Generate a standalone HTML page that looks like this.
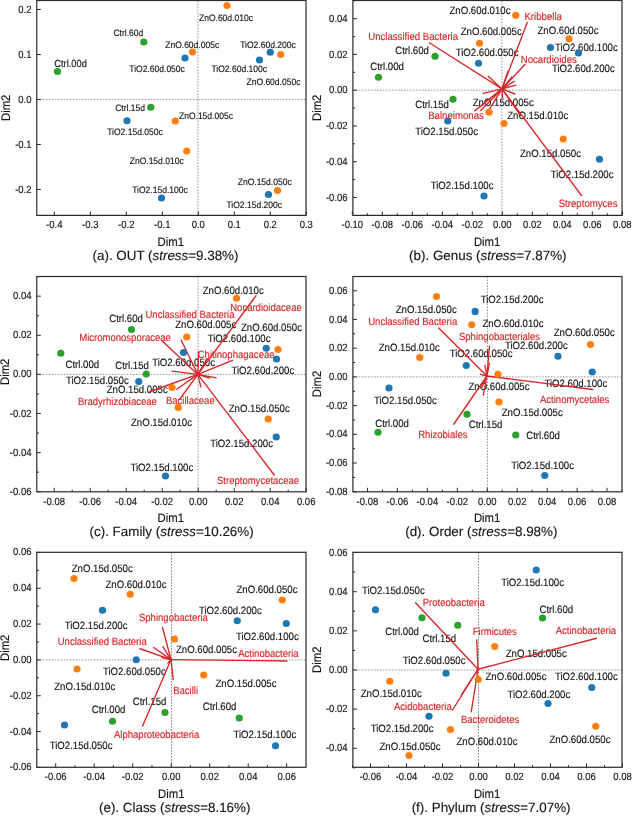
<!DOCTYPE html>
<html><head><meta charset="utf-8"><title>NMDS ordination plots</title>
<style>
html,body{margin:0;padding:0;background:#fff;}
body{width:632px;height:816px;overflow:hidden;}
svg{display:block;font-family:"Liberation Sans",Arial,Helvetica,sans-serif;}
text{text-rendering:geometricPrecision;stroke-width:0.14px;stroke-linejoin:round;}
</style></head><body>
<svg width="632" height="816" viewBox="0 0 632 816">
<rect x="0" y="0" width="632" height="816" fill="#ffffff"/>
<g id="panel-a">
<line x1="36.80" y1="99.40" x2="306.00" y2="99.40" stroke="#989898" stroke-width="1" stroke-dasharray="1.6 1.4"/>
<line x1="197.90" y1="0.50" x2="197.90" y2="215.40" stroke="#989898" stroke-width="1" stroke-dasharray="1.6 1.4"/>
<text transform="translate(54.20,66.84) scale(1,1.1)" font-size="9.34" fill="#161616" stroke="#161616" text-anchor="start" >Ctrl.00d</text>
<text transform="translate(113.45,36.31) scale(1,1.1)" font-size="8.53" fill="#161616" stroke="#161616" text-anchor="start" >Ctrl.60d</text>
<text transform="translate(115.20,111.31) scale(1,1.1)" font-size="8.53" fill="#161616" stroke="#161616" text-anchor="start" >Ctrl.15d</text>
<text transform="translate(107.20,134.81) scale(1,1.1)" font-size="8.53" fill="#161616" stroke="#161616" text-anchor="start" >TiO2.15d.050c</text>
<text transform="translate(198.95,20.81) scale(1,1.1)" font-size="8.53" fill="#161616" stroke="#161616" text-anchor="start" >ZnO.60d.010c</text>
<text transform="translate(165.20,47.56) scale(1,1.1)" font-size="8.53" fill="#161616" stroke="#161616" text-anchor="start" >ZnO.60d.005c</text>
<text transform="translate(129.30,71.56) scale(1,1.1)" font-size="8.53" fill="#161616" stroke="#161616" text-anchor="start" >TiO2.60d.050c</text>
<text transform="translate(240.20,47.56) scale(1,1.1)" font-size="8.53" fill="#161616" stroke="#161616" text-anchor="start" >TiO2.60d.200c</text>
<text transform="translate(211.45,71.56) scale(1,1.1)" font-size="8.53" fill="#161616" stroke="#161616" text-anchor="start" >TiO2.60d.100c</text>
<text transform="translate(246.45,84.56) scale(1,1.1)" font-size="8.53" fill="#161616" stroke="#161616" text-anchor="start" >ZnO.60d.050c</text>
<text transform="translate(178.95,118.81) scale(1,1.1)" font-size="8.53" fill="#161616" stroke="#161616" text-anchor="start" >ZnO.15d.005c</text>
<text transform="translate(129.70,164.31) scale(1,1.1)" font-size="8.53" fill="#161616" stroke="#161616" text-anchor="start" >ZnO.15d.010c</text>
<text transform="translate(132.20,193.06) scale(1,1.1)" font-size="8.53" fill="#161616" stroke="#161616" text-anchor="start" >TiO2.15d.100c</text>
<text transform="translate(237.70,185.06) scale(1,1.1)" font-size="8.53" fill="#161616" stroke="#161616" text-anchor="start" >ZnO.15d.050c</text>
<text transform="translate(226.45,208.06) scale(1,1.1)" font-size="8.53" fill="#161616" stroke="#161616" text-anchor="start" >TiO2.15d.200c</text>
<circle cx="57.50" cy="71.50" r="3.6" fill="#2ca02c"/>
<circle cx="143.75" cy="42.00" r="3.6" fill="#2ca02c"/>
<circle cx="150.75" cy="107.25" r="3.6" fill="#2ca02c"/>
<circle cx="127.00" cy="120.75" r="3.6" fill="#1f77b4"/>
<circle cx="185.00" cy="58.00" r="3.6" fill="#1f77b4"/>
<circle cx="270.25" cy="52.25" r="3.6" fill="#1f77b4"/>
<circle cx="259.50" cy="60.00" r="3.6" fill="#1f77b4"/>
<circle cx="161.50" cy="198.00" r="3.6" fill="#1f77b4"/>
<circle cx="268.50" cy="194.50" r="3.6" fill="#1f77b4"/>
<circle cx="227.00" cy="5.50" r="3.6" fill="#ff7f0e"/>
<circle cx="192.50" cy="52.00" r="3.6" fill="#ff7f0e"/>
<circle cx="280.75" cy="54.50" r="3.6" fill="#ff7f0e"/>
<circle cx="175.25" cy="121.00" r="3.6" fill="#ff7f0e"/>
<circle cx="186.75" cy="151.00" r="3.6" fill="#ff7f0e"/>
<circle cx="277.50" cy="190.50" r="3.6" fill="#ff7f0e"/>
<rect x="36.8" y="0.5" width="269.2" height="214.9" fill="none" stroke="#2b2b2b" stroke-width="1.2"/>
<line x1="54.30" y1="215.40" x2="54.30" y2="211.40" stroke="#2b2b2b" stroke-width="1" />
<text transform="translate(54.30,227.95) scale(1,1.1)" font-size="9.5" fill="#161616" stroke="#161616" text-anchor="middle" >-0.4</text>
<line x1="90.30" y1="215.40" x2="90.30" y2="211.40" stroke="#2b2b2b" stroke-width="1" />
<text transform="translate(90.30,227.95) scale(1,1.1)" font-size="9.5" fill="#161616" stroke="#161616" text-anchor="middle" >-0.3</text>
<line x1="126.30" y1="215.40" x2="126.30" y2="211.40" stroke="#2b2b2b" stroke-width="1" />
<text transform="translate(126.30,227.95) scale(1,1.1)" font-size="9.5" fill="#161616" stroke="#161616" text-anchor="middle" >-0.2</text>
<line x1="162.30" y1="215.40" x2="162.30" y2="211.40" stroke="#2b2b2b" stroke-width="1" />
<text transform="translate(162.30,227.95) scale(1,1.1)" font-size="9.5" fill="#161616" stroke="#161616" text-anchor="middle" >-0.1</text>
<line x1="198.30" y1="215.40" x2="198.30" y2="211.40" stroke="#2b2b2b" stroke-width="1" />
<text transform="translate(198.30,227.95) scale(1,1.1)" font-size="9.5" fill="#161616" stroke="#161616" text-anchor="middle" >0.0</text>
<line x1="234.30" y1="215.40" x2="234.30" y2="211.40" stroke="#2b2b2b" stroke-width="1" />
<text transform="translate(234.30,227.95) scale(1,1.1)" font-size="9.5" fill="#161616" stroke="#161616" text-anchor="middle" >0.1</text>
<line x1="270.30" y1="215.40" x2="270.30" y2="211.40" stroke="#2b2b2b" stroke-width="1" />
<text transform="translate(270.30,227.95) scale(1,1.1)" font-size="9.5" fill="#161616" stroke="#161616" text-anchor="middle" >0.2</text>
<line x1="306.30" y1="215.40" x2="306.30" y2="211.40" stroke="#2b2b2b" stroke-width="1" />
<text transform="translate(306.30,227.95) scale(1,1.1)" font-size="9.5" fill="#161616" stroke="#161616" text-anchor="middle" >0.3</text>
<line x1="36.80" y1="189.50" x2="40.80" y2="189.50" stroke="#2b2b2b" stroke-width="1" />
<text transform="translate(31.50,192.55) scale(1,1.1)" font-size="9.5" fill="#161616" stroke="#161616" text-anchor="end" >-0.2</text>
<line x1="36.80" y1="144.50" x2="40.80" y2="144.50" stroke="#2b2b2b" stroke-width="1" />
<text transform="translate(31.50,147.55) scale(1,1.1)" font-size="9.5" fill="#161616" stroke="#161616" text-anchor="end" >-0.1</text>
<line x1="36.80" y1="99.50" x2="40.80" y2="99.50" stroke="#2b2b2b" stroke-width="1" />
<text transform="translate(31.50,102.55) scale(1,1.1)" font-size="9.5" fill="#161616" stroke="#161616" text-anchor="end" >0.0</text>
<line x1="36.80" y1="54.50" x2="40.80" y2="54.50" stroke="#2b2b2b" stroke-width="1" />
<text transform="translate(31.50,57.55) scale(1,1.1)" font-size="9.5" fill="#161616" stroke="#161616" text-anchor="end" >0.1</text>
<line x1="36.80" y1="9.50" x2="40.80" y2="9.50" stroke="#2b2b2b" stroke-width="1" />
<text transform="translate(31.50,12.55) scale(1,1.1)" font-size="9.5" fill="#161616" stroke="#161616" text-anchor="end" >0.2</text>
<text transform="translate(170.80,246.22) scale(1,1.1)" font-size="11.3" fill="#161616" stroke="#161616" text-anchor="middle" >Dim1</text>
<text transform="translate(10.10,107.80) rotate(-90) scale(1,1.1)" font-size="11.3" fill="#161616" stroke="#161616" text-anchor="middle">Dim2</text>
<text transform="translate(165.50,259.50)" font-size="13.4" fill="#161616" stroke="#161616" text-anchor="middle">(a). OUT (<tspan font-style="italic">stress</tspan>=9.38%)</text>
</g>
<g id="panel-b">
<line x1="352.90" y1="90.20" x2="622.00" y2="90.20" stroke="#989898" stroke-width="1" stroke-dasharray="1.6 1.4"/>
<line x1="501.90" y1="0.50" x2="501.90" y2="215.40" stroke="#989898" stroke-width="1" stroke-dasharray="1.6 1.4"/>
<text transform="translate(370.20,70.36) scale(1,1.1)" font-size="9.64" fill="#161616" stroke="#161616" text-anchor="start" >Ctrl.00d</text>
<text transform="translate(395.20,54.11) scale(1,1.1)" font-size="9.64" fill="#161616" stroke="#161616" text-anchor="start" >Ctrl.60d</text>
<text transform="translate(415.20,108.36) scale(1,1.1)" font-size="9.64" fill="#161616" stroke="#161616" text-anchor="start" >Ctrl.15d</text>
<text transform="translate(415.20,135.11) scale(1,1.1)" font-size="9.64" fill="#161616" stroke="#161616" text-anchor="start" >TiO2.15d.050c</text>
<text transform="translate(449.45,13.86) scale(1,1.1)" font-size="9.64" fill="#161616" stroke="#161616" text-anchor="start" >ZnO.60d.010c</text>
<text transform="translate(460.70,34.61) scale(1,1.1)" font-size="9.64" fill="#161616" stroke="#161616" text-anchor="start" >ZnO.60d.005c</text>
<text transform="translate(537.45,33.86) scale(1,1.1)" font-size="9.64" fill="#161616" stroke="#161616" text-anchor="start" >ZnO.60d.050c</text>
<text transform="translate(554.95,50.86) scale(1,1.1)" font-size="9.64" fill="#161616" stroke="#161616" text-anchor="start" >TiO2.60d.100c</text>
<text transform="translate(551.95,71.61) scale(1,1.1)" font-size="9.64" fill="#161616" stroke="#161616" text-anchor="start" >TiO2.60d.200c</text>
<text transform="translate(455.70,56.36) scale(1,1.1)" font-size="9.64" fill="#161616" stroke="#161616" text-anchor="start" >TiO2.60d.050c</text>
<text transform="translate(472.70,105.86) scale(1,1.1)" font-size="9.64" fill="#161616" stroke="#161616" text-anchor="start" >ZnO.15d.005c</text>
<text transform="translate(507.20,118.86) scale(1,1.1)" font-size="9.64" fill="#161616" stroke="#161616" text-anchor="start" >ZnO.15d.010c</text>
<text transform="translate(519.95,156.86) scale(1,1.1)" font-size="9.64" fill="#161616" stroke="#161616" text-anchor="start" >ZnO.15d.050c</text>
<text transform="translate(550.70,177.61) scale(1,1.1)" font-size="9.64" fill="#161616" stroke="#161616" text-anchor="start" >TiO2.15d.200c</text>
<text transform="translate(430.70,188.86) scale(1,1.1)" font-size="9.64" fill="#161616" stroke="#161616" text-anchor="start" >TiO2.15d.100c</text>
<line x1="502.00" y1="88.90" x2="429.30" y2="42.80" stroke="#d62728" stroke-width="1.35" stroke-linecap="round"/>
<line x1="502.00" y1="88.90" x2="488.20" y2="76.30" stroke="#d62728" stroke-width="1.35" stroke-linecap="round"/>
<line x1="502.00" y1="88.90" x2="527.25" y2="22.50" stroke="#d62728" stroke-width="1.35" stroke-linecap="round"/>
<line x1="502.00" y1="88.90" x2="525.00" y2="64.50" stroke="#d62728" stroke-width="1.35" stroke-linecap="round"/>
<line x1="502.00" y1="88.90" x2="514.20" y2="81.40" stroke="#d62728" stroke-width="1.35" stroke-linecap="round"/>
<line x1="502.00" y1="88.90" x2="515.80" y2="85.20" stroke="#d62728" stroke-width="1.35" stroke-linecap="round"/>
<line x1="502.00" y1="88.90" x2="514.80" y2="94.00" stroke="#d62728" stroke-width="1.35" stroke-linecap="round"/>
<line x1="502.00" y1="88.90" x2="483.20" y2="93.40" stroke="#d62728" stroke-width="1.35" stroke-linecap="round"/>
<line x1="502.00" y1="88.90" x2="474.70" y2="110.90" stroke="#d62728" stroke-width="1.35" stroke-linecap="round"/>
<line x1="502.00" y1="88.90" x2="480.70" y2="110.40" stroke="#d62728" stroke-width="1.35" stroke-linecap="round"/>
<line x1="502.00" y1="88.90" x2="489.30" y2="109.40" stroke="#d62728" stroke-width="1.35" stroke-linecap="round"/>
<line x1="502.00" y1="88.90" x2="502.50" y2="98.00" stroke="#d62728" stroke-width="1.35" stroke-linecap="round"/>
<line x1="502.00" y1="88.90" x2="581.50" y2="195.50" stroke="#d62728" stroke-width="1.35" stroke-linecap="round"/>
<line x1="502.00" y1="88.90" x2="520.50" y2="115.50" stroke="#d62728" stroke-width="1.35" stroke-linecap="round"/>
<line x1="502.00" y1="88.90" x2="508.00" y2="71.00" stroke="#d62728" stroke-width="1.35" stroke-linecap="round"/>
<line x1="502.00" y1="88.90" x2="512.00" y2="77.00" stroke="#d62728" stroke-width="1.35" stroke-linecap="round"/>
<circle cx="378.50" cy="77.25" r="3.6" fill="#2ca02c"/>
<circle cx="435.00" cy="56.25" r="3.6" fill="#2ca02c"/>
<circle cx="453.00" cy="99.25" r="3.6" fill="#2ca02c"/>
<circle cx="447.75" cy="121.00" r="3.6" fill="#1f77b4"/>
<circle cx="550.50" cy="47.50" r="3.6" fill="#1f77b4"/>
<circle cx="578.50" cy="53.00" r="3.6" fill="#1f77b4"/>
<circle cx="478.50" cy="63.25" r="3.6" fill="#1f77b4"/>
<circle cx="599.50" cy="159.25" r="3.6" fill="#1f77b4"/>
<circle cx="484.00" cy="196.00" r="3.6" fill="#1f77b4"/>
<circle cx="515.75" cy="15.25" r="3.6" fill="#ff7f0e"/>
<circle cx="479.50" cy="43.25" r="3.6" fill="#ff7f0e"/>
<circle cx="569.00" cy="38.75" r="3.6" fill="#ff7f0e"/>
<circle cx="489.00" cy="112.25" r="3.6" fill="#ff7f0e"/>
<circle cx="504.00" cy="123.50" r="3.6" fill="#ff7f0e"/>
<circle cx="563.25" cy="139.00" r="3.6" fill="#ff7f0e"/>
<text transform="translate(368.20,40.36) scale(1,1.1)" font-size="9.64" fill="#d62728" stroke="#d62728" text-anchor="start" >Unclassified Bacteria</text>
<text transform="translate(428.20,119.06) scale(1,1.1)" font-size="9.64" fill="#d62728" stroke="#d62728" text-anchor="start" >Balneimonas</text>
<text transform="translate(524.45,19.61) scale(1,1.1)" font-size="9.64" fill="#d62728" stroke="#d62728" text-anchor="start" >Kribbella</text>
<text transform="translate(520.70,63.36) scale(1,1.1)" font-size="9.64" fill="#d62728" stroke="#d62728" text-anchor="start" >Nocardioides</text>
<text transform="translate(558.70,206.86) scale(1,1.1)" font-size="9.64" fill="#d62728" stroke="#d62728" text-anchor="start" >Streptomyces</text>
<rect x="352.9" y="0.5" width="269.1" height="214.9" fill="none" stroke="#2b2b2b" stroke-width="1.2"/>
<line x1="352.30" y1="215.40" x2="352.30" y2="211.40" stroke="#2b2b2b" stroke-width="1" />
<text transform="translate(352.30,227.95) scale(1,1.1)" font-size="9.5" fill="#161616" stroke="#161616" text-anchor="middle" >-0.10</text>
<line x1="382.30" y1="215.40" x2="382.30" y2="211.40" stroke="#2b2b2b" stroke-width="1" />
<text transform="translate(382.30,227.95) scale(1,1.1)" font-size="9.5" fill="#161616" stroke="#161616" text-anchor="middle" >-0.08</text>
<line x1="412.30" y1="215.40" x2="412.30" y2="211.40" stroke="#2b2b2b" stroke-width="1" />
<text transform="translate(412.30,227.95) scale(1,1.1)" font-size="9.5" fill="#161616" stroke="#161616" text-anchor="middle" >-0.06</text>
<line x1="442.30" y1="215.40" x2="442.30" y2="211.40" stroke="#2b2b2b" stroke-width="1" />
<text transform="translate(442.30,227.95) scale(1,1.1)" font-size="9.5" fill="#161616" stroke="#161616" text-anchor="middle" >-0.04</text>
<line x1="472.30" y1="215.40" x2="472.30" y2="211.40" stroke="#2b2b2b" stroke-width="1" />
<text transform="translate(472.30,227.95) scale(1,1.1)" font-size="9.5" fill="#161616" stroke="#161616" text-anchor="middle" >-0.02</text>
<line x1="502.30" y1="215.40" x2="502.30" y2="211.40" stroke="#2b2b2b" stroke-width="1" />
<text transform="translate(502.30,227.95) scale(1,1.1)" font-size="9.5" fill="#161616" stroke="#161616" text-anchor="middle" >0.00</text>
<line x1="532.30" y1="215.40" x2="532.30" y2="211.40" stroke="#2b2b2b" stroke-width="1" />
<text transform="translate(532.30,227.95) scale(1,1.1)" font-size="9.5" fill="#161616" stroke="#161616" text-anchor="middle" >0.02</text>
<line x1="562.30" y1="215.40" x2="562.30" y2="211.40" stroke="#2b2b2b" stroke-width="1" />
<text transform="translate(562.30,227.95) scale(1,1.1)" font-size="9.5" fill="#161616" stroke="#161616" text-anchor="middle" >0.04</text>
<line x1="592.30" y1="215.40" x2="592.30" y2="211.40" stroke="#2b2b2b" stroke-width="1" />
<text transform="translate(592.30,227.95) scale(1,1.1)" font-size="9.5" fill="#161616" stroke="#161616" text-anchor="middle" >0.06</text>
<line x1="622.30" y1="215.40" x2="622.30" y2="211.40" stroke="#2b2b2b" stroke-width="1" />
<text transform="translate(622.30,227.95) scale(1,1.1)" font-size="9.5" fill="#161616" stroke="#161616" text-anchor="middle" >0.08</text>
<line x1="367.30" y1="215.40" x2="367.30" y2="213.20" stroke="#2b2b2b" stroke-width="1" />
<line x1="397.30" y1="215.40" x2="397.30" y2="213.20" stroke="#2b2b2b" stroke-width="1" />
<line x1="427.30" y1="215.40" x2="427.30" y2="213.20" stroke="#2b2b2b" stroke-width="1" />
<line x1="457.30" y1="215.40" x2="457.30" y2="213.20" stroke="#2b2b2b" stroke-width="1" />
<line x1="487.30" y1="215.40" x2="487.30" y2="213.20" stroke="#2b2b2b" stroke-width="1" />
<line x1="517.30" y1="215.40" x2="517.30" y2="213.20" stroke="#2b2b2b" stroke-width="1" />
<line x1="547.30" y1="215.40" x2="547.30" y2="213.20" stroke="#2b2b2b" stroke-width="1" />
<line x1="577.30" y1="215.40" x2="577.30" y2="213.20" stroke="#2b2b2b" stroke-width="1" />
<line x1="607.30" y1="215.40" x2="607.30" y2="213.20" stroke="#2b2b2b" stroke-width="1" />
<line x1="352.90" y1="197.45" x2="356.90" y2="197.45" stroke="#2b2b2b" stroke-width="1" />
<text transform="translate(347.60,200.50) scale(1,1.1)" font-size="9.5" fill="#161616" stroke="#161616" text-anchor="end" >-0.06</text>
<line x1="352.90" y1="161.70" x2="356.90" y2="161.70" stroke="#2b2b2b" stroke-width="1" />
<text transform="translate(347.60,164.75) scale(1,1.1)" font-size="9.5" fill="#161616" stroke="#161616" text-anchor="end" >-0.04</text>
<line x1="352.90" y1="125.95" x2="356.90" y2="125.95" stroke="#2b2b2b" stroke-width="1" />
<text transform="translate(347.60,129.00) scale(1,1.1)" font-size="9.5" fill="#161616" stroke="#161616" text-anchor="end" >-0.02</text>
<line x1="352.90" y1="90.20" x2="356.90" y2="90.20" stroke="#2b2b2b" stroke-width="1" />
<text transform="translate(347.60,93.25) scale(1,1.1)" font-size="9.5" fill="#161616" stroke="#161616" text-anchor="end" >0.00</text>
<line x1="352.90" y1="54.45" x2="356.90" y2="54.45" stroke="#2b2b2b" stroke-width="1" />
<text transform="translate(347.60,57.50) scale(1,1.1)" font-size="9.5" fill="#161616" stroke="#161616" text-anchor="end" >0.02</text>
<line x1="352.90" y1="18.70" x2="356.90" y2="18.70" stroke="#2b2b2b" stroke-width="1" />
<text transform="translate(347.60,21.75) scale(1,1.1)" font-size="9.5" fill="#161616" stroke="#161616" text-anchor="end" >0.04</text>
<line x1="352.90" y1="179.55" x2="355.10" y2="179.55" stroke="#2b2b2b" stroke-width="1" />
<line x1="352.90" y1="143.80" x2="355.10" y2="143.80" stroke="#2b2b2b" stroke-width="1" />
<line x1="352.90" y1="108.05" x2="355.10" y2="108.05" stroke="#2b2b2b" stroke-width="1" />
<line x1="352.90" y1="72.30" x2="355.10" y2="72.30" stroke="#2b2b2b" stroke-width="1" />
<line x1="352.90" y1="36.55" x2="355.10" y2="36.55" stroke="#2b2b2b" stroke-width="1" />
<line x1="352.90" y1="0.80" x2="355.10" y2="0.80" stroke="#2b2b2b" stroke-width="1" />
<text transform="translate(487.10,246.22) scale(1,1.1)" font-size="11.3" fill="#161616" stroke="#161616" text-anchor="middle" >Dim1</text>
<text transform="translate(321.10,107.80) rotate(-90) scale(1,1.1)" font-size="11.3" fill="#161616" stroke="#161616" text-anchor="middle">Dim2</text>
<text transform="translate(487.80,259.50)" font-size="13.4" fill="#161616" stroke="#161616" text-anchor="middle">(b). Genus (<tspan font-style="italic">stress</tspan>=7.87%)</text>
</g>
<g id="panel-c">
<line x1="36.80" y1="374.40" x2="306.00" y2="374.40" stroke="#989898" stroke-width="1" stroke-dasharray="1.6 1.4"/>
<line x1="198.00" y1="276.50" x2="198.00" y2="491.80" stroke="#989898" stroke-width="1" stroke-dasharray="1.6 1.4"/>
<text transform="translate(109.20,322.11) scale(1,1.1)" font-size="9.64" fill="#161616" stroke="#161616" text-anchor="start" >Ctrl.60d</text>
<text transform="translate(65.45,367.86) scale(1,1.1)" font-size="9.64" fill="#161616" stroke="#161616" text-anchor="start" >Ctrl.00d</text>
<text transform="translate(115.20,368.61) scale(1,1.1)" font-size="9.64" fill="#161616" stroke="#161616" text-anchor="start" >Ctrl.15d</text>
<text transform="translate(65.95,383.61) scale(1,1.1)" font-size="9.64" fill="#161616" stroke="#161616" text-anchor="start" >TiO2.15d.050c</text>
<text transform="translate(106.70,393.16) scale(1,1.1)" font-size="9.64" fill="#161616" stroke="#161616" text-anchor="start" >ZnO.15d.005c</text>
<text transform="translate(202.70,293.61) scale(1,1.1)" font-size="9.64" fill="#161616" stroke="#161616" text-anchor="start" >ZnO.60d.010c</text>
<text transform="translate(175.20,328.36) scale(1,1.1)" font-size="9.64" fill="#161616" stroke="#161616" text-anchor="start" >ZnO.60d.005c</text>
<text transform="translate(240.95,330.86) scale(1,1.1)" font-size="9.64" fill="#161616" stroke="#161616" text-anchor="start" >ZnO.60d.050c</text>
<text transform="translate(207.70,342.36) scale(1,1.1)" font-size="9.64" fill="#161616" stroke="#161616" text-anchor="start" >TiO2.60d.100c</text>
<text transform="translate(231.45,373.61) scale(1,1.1)" font-size="9.64" fill="#161616" stroke="#161616" text-anchor="start" >TiO2.60d.200c</text>
<text transform="translate(152.20,366.36) scale(1,1.1)" font-size="9.64" fill="#161616" stroke="#161616" text-anchor="start" >TiO2.60d.050c</text>
<text transform="translate(130.95,425.86) scale(1,1.1)" font-size="9.64" fill="#161616" stroke="#161616" text-anchor="start" >ZnO.15d.010c</text>
<text transform="translate(228.70,412.16) scale(1,1.1)" font-size="9.64" fill="#161616" stroke="#161616" text-anchor="start" >ZnO.15d.050c</text>
<text transform="translate(210.20,446.86) scale(1,1.1)" font-size="9.64" fill="#161616" stroke="#161616" text-anchor="start" >TiO2.15d.200c</text>
<text transform="translate(130.45,471.36) scale(1,1.1)" font-size="9.64" fill="#161616" stroke="#161616" text-anchor="start" >TiO2.15d.100c</text>
<line x1="197.80" y1="374.40" x2="162.00" y2="340.80" stroke="#d62728" stroke-width="1.35" stroke-linecap="round"/>
<line x1="197.80" y1="374.40" x2="181.10" y2="340.00" stroke="#d62728" stroke-width="1.35" stroke-linecap="round"/>
<line x1="197.80" y1="374.40" x2="256.00" y2="295.75" stroke="#d62728" stroke-width="1.35" stroke-linecap="round"/>
<line x1="197.80" y1="374.40" x2="232.60" y2="360.30" stroke="#d62728" stroke-width="1.35" stroke-linecap="round"/>
<line x1="197.80" y1="374.40" x2="150.00" y2="391.50" stroke="#d62728" stroke-width="1.35" stroke-linecap="round"/>
<line x1="197.80" y1="374.40" x2="274.25" y2="475.00" stroke="#d62728" stroke-width="1.35" stroke-linecap="round"/>
<line x1="197.80" y1="374.40" x2="172.00" y2="371.20" stroke="#d62728" stroke-width="1.35" stroke-linecap="round"/>
<line x1="197.80" y1="374.40" x2="216.10" y2="377.80" stroke="#d62728" stroke-width="1.35" stroke-linecap="round"/>
<line x1="197.80" y1="374.40" x2="176.80" y2="389.30" stroke="#d62728" stroke-width="1.35" stroke-linecap="round"/>
<line x1="197.80" y1="374.40" x2="200.80" y2="386.80" stroke="#d62728" stroke-width="1.35" stroke-linecap="round"/>
<line x1="197.80" y1="374.40" x2="179.50" y2="399.50" stroke="#d62728" stroke-width="1.35" stroke-linecap="round"/>
<line x1="197.80" y1="374.40" x2="209.50" y2="378.00" stroke="#d62728" stroke-width="1.35" stroke-linecap="round"/>
<line x1="197.80" y1="374.40" x2="207.00" y2="359.00" stroke="#d62728" stroke-width="1.35" stroke-linecap="round"/>
<line x1="197.80" y1="374.40" x2="198.50" y2="352.00" stroke="#d62728" stroke-width="1.35" stroke-linecap="round"/>
<circle cx="131.50" cy="329.50" r="3.6" fill="#2ca02c"/>
<circle cx="60.75" cy="353.25" r="3.6" fill="#2ca02c"/>
<circle cx="146.25" cy="374.00" r="3.6" fill="#2ca02c"/>
<circle cx="138.75" cy="381.50" r="3.6" fill="#1f77b4"/>
<circle cx="266.25" cy="348.25" r="3.6" fill="#1f77b4"/>
<circle cx="276.50" cy="359.00" r="3.6" fill="#1f77b4"/>
<circle cx="183.50" cy="352.50" r="3.6" fill="#1f77b4"/>
<circle cx="276.25" cy="437.00" r="3.6" fill="#1f77b4"/>
<circle cx="165.50" cy="476.00" r="3.6" fill="#1f77b4"/>
<circle cx="172.00" cy="387.50" r="3.6" fill="#ff7f0e"/>
<circle cx="236.50" cy="298.25" r="3.6" fill="#ff7f0e"/>
<circle cx="186.75" cy="337.00" r="3.6" fill="#ff7f0e"/>
<circle cx="278.00" cy="349.50" r="3.6" fill="#ff7f0e"/>
<circle cx="178.25" cy="407.50" r="3.6" fill="#ff7f0e"/>
<circle cx="268.25" cy="419.00" r="3.6" fill="#ff7f0e"/>
<text transform="translate(79.20,341.05) scale(1,1.1)" font-size="9.54" fill="#d62728" stroke="#d62728" text-anchor="start" >Micromonosporaceae</text>
<text transform="translate(77.95,405.35) scale(1,1.1)" font-size="9.54" fill="#d62728" stroke="#d62728" text-anchor="start" >Bradyrhizobiaceae</text>
<text transform="translate(145.45,318.45) scale(1,1.1)" font-size="9.54" fill="#d62728" stroke="#d62728" text-anchor="start" >Unclassified Bacteria</text>
<text transform="translate(230.20,310.85) scale(1,1.1)" font-size="9.54" fill="#d62728" stroke="#d62728" text-anchor="start" >Nocardioidaceae</text>
<text transform="translate(197.70,357.85) scale(1,1.1)" font-size="9.54" fill="#d62728" stroke="#d62728" text-anchor="start" >Chitinophagaceae</text>
<text transform="translate(165.95,404.10) scale(1,1.1)" font-size="9.54" fill="#d62728" stroke="#d62728" text-anchor="start" >Bacillaceae</text>
<text transform="translate(216.95,484.35) scale(1,1.1)" font-size="9.54" fill="#d62728" stroke="#d62728" text-anchor="start" >Streptomycetaceae</text>
<rect x="36.8" y="276.5" width="269.2" height="215.3" fill="none" stroke="#2b2b2b" stroke-width="1.2"/>
<line x1="54.20" y1="491.80" x2="54.20" y2="487.80" stroke="#2b2b2b" stroke-width="1" />
<text transform="translate(54.20,504.75) scale(1,1.1)" font-size="9.5" fill="#161616" stroke="#161616" text-anchor="middle" >-0.08</text>
<line x1="90.20" y1="491.80" x2="90.20" y2="487.80" stroke="#2b2b2b" stroke-width="1" />
<text transform="translate(90.20,504.75) scale(1,1.1)" font-size="9.5" fill="#161616" stroke="#161616" text-anchor="middle" >-0.06</text>
<line x1="126.20" y1="491.80" x2="126.20" y2="487.80" stroke="#2b2b2b" stroke-width="1" />
<text transform="translate(126.20,504.75) scale(1,1.1)" font-size="9.5" fill="#161616" stroke="#161616" text-anchor="middle" >-0.04</text>
<line x1="162.20" y1="491.80" x2="162.20" y2="487.80" stroke="#2b2b2b" stroke-width="1" />
<text transform="translate(162.20,504.75) scale(1,1.1)" font-size="9.5" fill="#161616" stroke="#161616" text-anchor="middle" >-0.02</text>
<line x1="198.20" y1="491.80" x2="198.20" y2="487.80" stroke="#2b2b2b" stroke-width="1" />
<text transform="translate(198.20,504.75) scale(1,1.1)" font-size="9.5" fill="#161616" stroke="#161616" text-anchor="middle" >0.00</text>
<line x1="234.20" y1="491.80" x2="234.20" y2="487.80" stroke="#2b2b2b" stroke-width="1" />
<text transform="translate(234.20,504.75) scale(1,1.1)" font-size="9.5" fill="#161616" stroke="#161616" text-anchor="middle" >0.02</text>
<line x1="270.20" y1="491.80" x2="270.20" y2="487.80" stroke="#2b2b2b" stroke-width="1" />
<text transform="translate(270.20,504.75) scale(1,1.1)" font-size="9.5" fill="#161616" stroke="#161616" text-anchor="middle" >0.04</text>
<line x1="306.20" y1="491.80" x2="306.20" y2="487.80" stroke="#2b2b2b" stroke-width="1" />
<text transform="translate(306.20,504.75) scale(1,1.1)" font-size="9.5" fill="#161616" stroke="#161616" text-anchor="middle" >0.06</text>
<line x1="72.20" y1="491.80" x2="72.20" y2="489.60" stroke="#2b2b2b" stroke-width="1" />
<line x1="108.20" y1="491.80" x2="108.20" y2="489.60" stroke="#2b2b2b" stroke-width="1" />
<line x1="144.20" y1="491.80" x2="144.20" y2="489.60" stroke="#2b2b2b" stroke-width="1" />
<line x1="180.20" y1="491.80" x2="180.20" y2="489.60" stroke="#2b2b2b" stroke-width="1" />
<line x1="216.20" y1="491.80" x2="216.20" y2="489.60" stroke="#2b2b2b" stroke-width="1" />
<line x1="252.20" y1="491.80" x2="252.20" y2="489.60" stroke="#2b2b2b" stroke-width="1" />
<line x1="288.20" y1="491.80" x2="288.20" y2="489.60" stroke="#2b2b2b" stroke-width="1" />
<line x1="36.80" y1="491.70" x2="40.80" y2="491.70" stroke="#2b2b2b" stroke-width="1" />
<text transform="translate(31.50,494.75) scale(1,1.1)" font-size="9.5" fill="#161616" stroke="#161616" text-anchor="end" >-0.06</text>
<line x1="36.80" y1="452.60" x2="40.80" y2="452.60" stroke="#2b2b2b" stroke-width="1" />
<text transform="translate(31.50,455.65) scale(1,1.1)" font-size="9.5" fill="#161616" stroke="#161616" text-anchor="end" >-0.04</text>
<line x1="36.80" y1="413.50" x2="40.80" y2="413.50" stroke="#2b2b2b" stroke-width="1" />
<text transform="translate(31.50,416.55) scale(1,1.1)" font-size="9.5" fill="#161616" stroke="#161616" text-anchor="end" >-0.02</text>
<line x1="36.80" y1="374.40" x2="40.80" y2="374.40" stroke="#2b2b2b" stroke-width="1" />
<text transform="translate(31.50,377.45) scale(1,1.1)" font-size="9.5" fill="#161616" stroke="#161616" text-anchor="end" >0.00</text>
<line x1="36.80" y1="335.30" x2="40.80" y2="335.30" stroke="#2b2b2b" stroke-width="1" />
<text transform="translate(31.50,338.35) scale(1,1.1)" font-size="9.5" fill="#161616" stroke="#161616" text-anchor="end" >0.02</text>
<line x1="36.80" y1="296.20" x2="40.80" y2="296.20" stroke="#2b2b2b" stroke-width="1" />
<text transform="translate(31.50,299.25) scale(1,1.1)" font-size="9.5" fill="#161616" stroke="#161616" text-anchor="end" >0.04</text>
<line x1="36.80" y1="472.15" x2="39.00" y2="472.15" stroke="#2b2b2b" stroke-width="1" />
<line x1="36.80" y1="433.05" x2="39.00" y2="433.05" stroke="#2b2b2b" stroke-width="1" />
<line x1="36.80" y1="393.95" x2="39.00" y2="393.95" stroke="#2b2b2b" stroke-width="1" />
<line x1="36.80" y1="354.85" x2="39.00" y2="354.85" stroke="#2b2b2b" stroke-width="1" />
<line x1="36.80" y1="315.75" x2="39.00" y2="315.75" stroke="#2b2b2b" stroke-width="1" />
<line x1="36.80" y1="276.65" x2="39.00" y2="276.65" stroke="#2b2b2b" stroke-width="1" />
<text transform="translate(170.80,522.12) scale(1,1.1)" font-size="11.3" fill="#161616" stroke="#161616" text-anchor="middle" >Dim1</text>
<text transform="translate(9.10,371.80) rotate(-90) scale(1,1.1)" font-size="11.3" fill="#161616" stroke="#161616" text-anchor="middle">Dim2</text>
<text transform="translate(171.60,536.40)" font-size="13.4" fill="#161616" stroke="#161616" text-anchor="middle">(c). Family (<tspan font-style="italic">stress</tspan>=10.26%)</text>
</g>
<g id="panel-d">
<line x1="352.90" y1="376.90" x2="622.00" y2="376.90" stroke="#989898" stroke-width="1" stroke-dasharray="1.6 1.4"/>
<line x1="487.40" y1="276.50" x2="487.40" y2="491.80" stroke="#8c8c8c" stroke-width="1" stroke-dasharray="1.6 1.4"/>
<text transform="translate(395.70,312.86) scale(1,1.1)" font-size="9.64" fill="#161616" stroke="#161616" text-anchor="start" >ZnO.15d.050c</text>
<text transform="translate(378.70,350.86) scale(1,1.1)" font-size="9.64" fill="#161616" stroke="#161616" text-anchor="start" >ZnO.15d.010c</text>
<text transform="translate(373.95,404.11) scale(1,1.1)" font-size="9.64" fill="#161616" stroke="#161616" text-anchor="start" >TiO2.15d.050c</text>
<text transform="translate(480.70,303.36) scale(1,1.1)" font-size="9.64" fill="#161616" stroke="#161616" text-anchor="start" >TiO2.15d.200c</text>
<text transform="translate(482.45,326.61) scale(1,1.1)" font-size="9.64" fill="#161616" stroke="#161616" text-anchor="start" >ZnO.60d.010c</text>
<text transform="translate(504.95,349.11) scale(1,1.1)" font-size="9.64" fill="#161616" stroke="#161616" text-anchor="start" >TiO2.60d.200c</text>
<text transform="translate(553.70,336.11) scale(1,1.1)" font-size="9.64" fill="#161616" stroke="#161616" text-anchor="start" >ZnO.60d.050c</text>
<text transform="translate(449.70,357.11) scale(1,1.1)" font-size="9.64" fill="#161616" stroke="#161616" text-anchor="start" >TiO2.60d.050c</text>
<text transform="translate(544.45,386.61) scale(1,1.1)" font-size="9.64" fill="#161616" stroke="#161616" text-anchor="start" >TiO2.60d.100c</text>
<text transform="translate(468.45,390.11) scale(1,1.1)" font-size="9.64" fill="#161616" stroke="#161616" text-anchor="start" >ZnO.60d.005c</text>
<text transform="translate(501.70,416.16) scale(1,1.1)" font-size="9.64" fill="#161616" stroke="#161616" text-anchor="start" >ZnO.15d.005c</text>
<text transform="translate(468.70,428.36) scale(1,1.1)" font-size="9.64" fill="#161616" stroke="#161616" text-anchor="start" >Ctrl.15d</text>
<text transform="translate(526.20,439.36) scale(1,1.1)" font-size="9.64" fill="#161616" stroke="#161616" text-anchor="start" >Ctrl.60d</text>
<text transform="translate(375.20,427.11) scale(1,1.1)" font-size="9.64" fill="#161616" stroke="#161616" text-anchor="start" >Ctrl.00d</text>
<text transform="translate(511.20,469.36) scale(1,1.1)" font-size="9.64" fill="#161616" stroke="#161616" text-anchor="start" >TiO2.15d.100c</text>
<line x1="486.90" y1="376.00" x2="438.75" y2="328.00" stroke="#d62728" stroke-width="1.35" stroke-linecap="round"/>
<line x1="486.90" y1="376.00" x2="489.50" y2="346.25" stroke="#d62728" stroke-width="1.35" stroke-linecap="round"/>
<line x1="486.90" y1="376.00" x2="592.75" y2="389.50" stroke="#d62728" stroke-width="1.35" stroke-linecap="round"/>
<line x1="486.90" y1="376.00" x2="453.75" y2="424.25" stroke="#d62728" stroke-width="1.35" stroke-linecap="round"/>
<line x1="486.90" y1="376.00" x2="483.30" y2="395.20" stroke="#d62728" stroke-width="1.35" stroke-linecap="round"/>
<line x1="486.90" y1="376.00" x2="484.90" y2="365.30" stroke="#d62728" stroke-width="1.35" stroke-linecap="round"/>
<line x1="486.90" y1="376.00" x2="489.40" y2="363.30" stroke="#d62728" stroke-width="1.35" stroke-linecap="round"/>
<line x1="486.90" y1="376.00" x2="480.30" y2="374.40" stroke="#d62728" stroke-width="1.35" stroke-linecap="round"/>
<line x1="486.90" y1="376.00" x2="481.50" y2="388.00" stroke="#d62728" stroke-width="1.35" stroke-linecap="round"/>
<circle cx="515.75" cy="435.00" r="3.6" fill="#2ca02c"/>
<circle cx="378.00" cy="432.25" r="3.6" fill="#2ca02c"/>
<circle cx="467.00" cy="414.25" r="3.6" fill="#2ca02c"/>
<circle cx="389.00" cy="388.00" r="3.6" fill="#1f77b4"/>
<circle cx="475.10" cy="311.40" r="3.6" fill="#1f77b4"/>
<circle cx="558.00" cy="356.25" r="3.6" fill="#1f77b4"/>
<circle cx="466.25" cy="365.50" r="3.6" fill="#1f77b4"/>
<circle cx="592.25" cy="372.00" r="3.6" fill="#1f77b4"/>
<circle cx="544.75" cy="475.50" r="3.6" fill="#1f77b4"/>
<circle cx="436.50" cy="296.50" r="3.6" fill="#ff7f0e"/>
<circle cx="419.75" cy="357.50" r="3.6" fill="#ff7f0e"/>
<circle cx="471.75" cy="324.75" r="3.6" fill="#ff7f0e"/>
<circle cx="590.50" cy="344.50" r="3.6" fill="#ff7f0e"/>
<circle cx="498.00" cy="374.25" r="3.6" fill="#ff7f0e"/>
<circle cx="499.00" cy="402.00" r="3.6" fill="#ff7f0e"/>
<text transform="translate(368.20,325.35) scale(1,1.1)" font-size="9.54" fill="#d62728" stroke="#d62728" text-anchor="start" >Unclassified Bacteria</text>
<text transform="translate(458.95,339.60) scale(1,1.1)" font-size="9.54" fill="#d62728" stroke="#d62728" text-anchor="start" >Sphingobacteriales</text>
<text transform="translate(539.95,402.85) scale(1,1.1)" font-size="9.54" fill="#d62728" stroke="#d62728" text-anchor="start" >Actinomycetales</text>
<text transform="translate(418.20,438.35) scale(1,1.1)" font-size="9.54" fill="#d62728" stroke="#d62728" text-anchor="start" >Rhizobiales</text>
<rect x="352.9" y="276.5" width="269.1" height="215.3" fill="none" stroke="#2b2b2b" stroke-width="1.2"/>
<line x1="367.45" y1="491.80" x2="367.45" y2="487.80" stroke="#2b2b2b" stroke-width="1" />
<text transform="translate(367.45,504.75) scale(1,1.1)" font-size="9.5" fill="#161616" stroke="#161616" text-anchor="middle" >-0.08</text>
<line x1="397.40" y1="491.80" x2="397.40" y2="487.80" stroke="#2b2b2b" stroke-width="1" />
<text transform="translate(397.40,504.75) scale(1,1.1)" font-size="9.5" fill="#161616" stroke="#161616" text-anchor="middle" >-0.06</text>
<line x1="427.35" y1="491.80" x2="427.35" y2="487.80" stroke="#2b2b2b" stroke-width="1" />
<text transform="translate(427.35,504.75) scale(1,1.1)" font-size="9.5" fill="#161616" stroke="#161616" text-anchor="middle" >-0.04</text>
<line x1="457.30" y1="491.80" x2="457.30" y2="487.80" stroke="#2b2b2b" stroke-width="1" />
<text transform="translate(457.30,504.75) scale(1,1.1)" font-size="9.5" fill="#161616" stroke="#161616" text-anchor="middle" >-0.02</text>
<line x1="487.25" y1="491.80" x2="487.25" y2="487.80" stroke="#2b2b2b" stroke-width="1" />
<text transform="translate(487.25,504.75) scale(1,1.1)" font-size="9.5" fill="#161616" stroke="#161616" text-anchor="middle" >0.00</text>
<line x1="517.20" y1="491.80" x2="517.20" y2="487.80" stroke="#2b2b2b" stroke-width="1" />
<text transform="translate(517.20,504.75) scale(1,1.1)" font-size="9.5" fill="#161616" stroke="#161616" text-anchor="middle" >0.02</text>
<line x1="547.15" y1="491.80" x2="547.15" y2="487.80" stroke="#2b2b2b" stroke-width="1" />
<text transform="translate(547.15,504.75) scale(1,1.1)" font-size="9.5" fill="#161616" stroke="#161616" text-anchor="middle" >0.04</text>
<line x1="577.10" y1="491.80" x2="577.10" y2="487.80" stroke="#2b2b2b" stroke-width="1" />
<text transform="translate(577.10,504.75) scale(1,1.1)" font-size="9.5" fill="#161616" stroke="#161616" text-anchor="middle" >0.06</text>
<line x1="607.05" y1="491.80" x2="607.05" y2="487.80" stroke="#2b2b2b" stroke-width="1" />
<text transform="translate(607.05,504.75) scale(1,1.1)" font-size="9.5" fill="#161616" stroke="#161616" text-anchor="middle" >0.08</text>
<line x1="382.45" y1="491.80" x2="382.45" y2="489.60" stroke="#2b2b2b" stroke-width="1" />
<line x1="412.40" y1="491.80" x2="412.40" y2="489.60" stroke="#2b2b2b" stroke-width="1" />
<line x1="442.35" y1="491.80" x2="442.35" y2="489.60" stroke="#2b2b2b" stroke-width="1" />
<line x1="472.30" y1="491.80" x2="472.30" y2="489.60" stroke="#2b2b2b" stroke-width="1" />
<line x1="502.25" y1="491.80" x2="502.25" y2="489.60" stroke="#2b2b2b" stroke-width="1" />
<line x1="532.20" y1="491.80" x2="532.20" y2="489.60" stroke="#2b2b2b" stroke-width="1" />
<line x1="562.15" y1="491.80" x2="562.15" y2="489.60" stroke="#2b2b2b" stroke-width="1" />
<line x1="592.10" y1="491.80" x2="592.10" y2="489.60" stroke="#2b2b2b" stroke-width="1" />
<line x1="622.05" y1="491.80" x2="622.05" y2="489.60" stroke="#2b2b2b" stroke-width="1" />
<line x1="352.90" y1="491.78" x2="356.90" y2="491.78" stroke="#2b2b2b" stroke-width="1" />
<text transform="translate(347.60,494.83) scale(1,1.1)" font-size="9.5" fill="#161616" stroke="#161616" text-anchor="end" >-0.08</text>
<line x1="352.90" y1="463.06" x2="356.90" y2="463.06" stroke="#2b2b2b" stroke-width="1" />
<text transform="translate(347.60,466.11) scale(1,1.1)" font-size="9.5" fill="#161616" stroke="#161616" text-anchor="end" >-0.06</text>
<line x1="352.90" y1="434.34" x2="356.90" y2="434.34" stroke="#2b2b2b" stroke-width="1" />
<text transform="translate(347.60,437.39) scale(1,1.1)" font-size="9.5" fill="#161616" stroke="#161616" text-anchor="end" >-0.04</text>
<line x1="352.90" y1="405.62" x2="356.90" y2="405.62" stroke="#2b2b2b" stroke-width="1" />
<text transform="translate(347.60,408.67) scale(1,1.1)" font-size="9.5" fill="#161616" stroke="#161616" text-anchor="end" >-0.02</text>
<line x1="352.90" y1="376.90" x2="356.90" y2="376.90" stroke="#2b2b2b" stroke-width="1" />
<text transform="translate(347.60,379.95) scale(1,1.1)" font-size="9.5" fill="#161616" stroke="#161616" text-anchor="end" >0.00</text>
<line x1="352.90" y1="348.18" x2="356.90" y2="348.18" stroke="#2b2b2b" stroke-width="1" />
<text transform="translate(347.60,351.23) scale(1,1.1)" font-size="9.5" fill="#161616" stroke="#161616" text-anchor="end" >0.02</text>
<line x1="352.90" y1="319.46" x2="356.90" y2="319.46" stroke="#2b2b2b" stroke-width="1" />
<text transform="translate(347.60,322.51) scale(1,1.1)" font-size="9.5" fill="#161616" stroke="#161616" text-anchor="end" >0.04</text>
<line x1="352.90" y1="290.74" x2="356.90" y2="290.74" stroke="#2b2b2b" stroke-width="1" />
<text transform="translate(347.60,293.79) scale(1,1.1)" font-size="9.5" fill="#161616" stroke="#161616" text-anchor="end" >0.06</text>
<line x1="352.90" y1="477.42" x2="355.10" y2="477.42" stroke="#2b2b2b" stroke-width="1" />
<line x1="352.90" y1="448.70" x2="355.10" y2="448.70" stroke="#2b2b2b" stroke-width="1" />
<line x1="352.90" y1="419.98" x2="355.10" y2="419.98" stroke="#2b2b2b" stroke-width="1" />
<line x1="352.90" y1="391.26" x2="355.10" y2="391.26" stroke="#2b2b2b" stroke-width="1" />
<line x1="352.90" y1="362.54" x2="355.10" y2="362.54" stroke="#2b2b2b" stroke-width="1" />
<line x1="352.90" y1="333.82" x2="355.10" y2="333.82" stroke="#2b2b2b" stroke-width="1" />
<line x1="352.90" y1="305.10" x2="355.10" y2="305.10" stroke="#2b2b2b" stroke-width="1" />
<text transform="translate(487.10,522.12) scale(1,1.1)" font-size="11.3" fill="#161616" stroke="#161616" text-anchor="middle" >Dim1</text>
<text transform="translate(321.10,384.00) rotate(-90) scale(1,1.1)" font-size="11.3" fill="#161616" stroke="#161616" text-anchor="middle">Dim2</text>
<text transform="translate(481.30,536.40)" font-size="13.4" fill="#161616" stroke="#161616" text-anchor="middle">(d). Order (<tspan font-style="italic">stress</tspan>=8.98%)</text>
</g>
<g id="panel-e">
<line x1="36.80" y1="659.90" x2="306.00" y2="659.90" stroke="#989898" stroke-width="1" stroke-dasharray="1.6 1.4"/>
<line x1="171.50" y1="552.30" x2="171.50" y2="767.30" stroke="#555" stroke-width="0.9" stroke-dasharray="1.3 1.7"/>
<text transform="translate(71.70,572.36) scale(1,1.1)" font-size="9.64" fill="#161616" stroke="#161616" text-anchor="start" >ZnO.15d.050c</text>
<text transform="translate(105.45,587.86) scale(1,1.1)" font-size="9.64" fill="#161616" stroke="#161616" text-anchor="start" >ZnO.60d.010c</text>
<text transform="translate(64.70,628.61) scale(1,1.1)" font-size="9.64" fill="#161616" stroke="#161616" text-anchor="start" >TiO2.15d.200c</text>
<text transform="translate(102.95,674.76) scale(1,1.1)" font-size="9.64" fill="#161616" stroke="#161616" text-anchor="start" >TiO2.60d.050c</text>
<text transform="translate(54.20,689.61) scale(1,1.1)" font-size="9.64" fill="#161616" stroke="#161616" text-anchor="start" >ZnO.15d.010c</text>
<text transform="translate(236.45,593.11) scale(1,1.1)" font-size="9.64" fill="#161616" stroke="#161616" text-anchor="start" >ZnO.60d.050c</text>
<text transform="translate(198.95,614.36) scale(1,1.1)" font-size="9.64" fill="#161616" stroke="#161616" text-anchor="start" >TiO2.60d.200c</text>
<text transform="translate(235.95,639.86) scale(1,1.1)" font-size="9.64" fill="#161616" stroke="#161616" text-anchor="start" >TiO2.60d.100c</text>
<text transform="translate(175.95,652.86) scale(1,1.1)" font-size="9.64" fill="#161616" stroke="#161616" text-anchor="start" >ZnO.60d.005c</text>
<text transform="translate(215.45,687.11) scale(1,1.1)" font-size="9.64" fill="#161616" stroke="#161616" text-anchor="start" >ZnO.15d.005c</text>
<text transform="translate(132.70,705.11) scale(1,1.1)" font-size="9.64" fill="#161616" stroke="#161616" text-anchor="start" >Ctrl.15d</text>
<text transform="translate(91.70,712.61) scale(1,1.1)" font-size="9.64" fill="#161616" stroke="#161616" text-anchor="start" >Ctrl.00d</text>
<text transform="translate(202.70,710.11) scale(1,1.1)" font-size="9.64" fill="#161616" stroke="#161616" text-anchor="start" >Ctrl.60d</text>
<text transform="translate(49.70,749.11) scale(1,1.1)" font-size="9.64" fill="#161616" stroke="#161616" text-anchor="start" >TiO2.15d.050c</text>
<text transform="translate(233.45,737.86) scale(1,1.1)" font-size="9.64" fill="#161616" stroke="#161616" text-anchor="start" >TiO2.15d.100c</text>
<line x1="171.00" y1="659.60" x2="162.50" y2="627.50" stroke="#d62728" stroke-width="1.35" stroke-linecap="round"/>
<line x1="171.00" y1="659.60" x2="140.00" y2="648.75" stroke="#d62728" stroke-width="1.35" stroke-linecap="round"/>
<line x1="171.00" y1="659.60" x2="153.75" y2="647.50" stroke="#d62728" stroke-width="1.35" stroke-linecap="round"/>
<line x1="171.00" y1="659.60" x2="286.75" y2="661.00" stroke="#d62728" stroke-width="1.35" stroke-linecap="round"/>
<line x1="171.00" y1="659.60" x2="173.25" y2="679.50" stroke="#d62728" stroke-width="1.35" stroke-linecap="round"/>
<line x1="171.00" y1="659.60" x2="142.50" y2="726.25" stroke="#d62728" stroke-width="1.35" stroke-linecap="round"/>
<line x1="171.00" y1="659.60" x2="162.80" y2="646.70" stroke="#d62728" stroke-width="1.35" stroke-linecap="round"/>
<line x1="171.00" y1="659.60" x2="161.80" y2="657.50" stroke="#d62728" stroke-width="1.35" stroke-linecap="round"/>
<line x1="171.00" y1="659.60" x2="167.90" y2="663.00" stroke="#d62728" stroke-width="1.35" stroke-linecap="round"/>
<circle cx="165.00" cy="712.50" r="3.6" fill="#2ca02c"/>
<circle cx="112.50" cy="721.25" r="3.6" fill="#2ca02c"/>
<circle cx="239.25" cy="718.00" r="3.6" fill="#2ca02c"/>
<circle cx="102.50" cy="610.25" r="3.6" fill="#1f77b4"/>
<circle cx="136.25" cy="659.75" r="3.6" fill="#1f77b4"/>
<circle cx="237.25" cy="620.75" r="3.6" fill="#1f77b4"/>
<circle cx="286.25" cy="623.50" r="3.6" fill="#1f77b4"/>
<circle cx="64.50" cy="725.00" r="3.6" fill="#1f77b4"/>
<circle cx="275.50" cy="745.75" r="3.6" fill="#1f77b4"/>
<circle cx="74.00" cy="578.50" r="3.6" fill="#ff7f0e"/>
<circle cx="130.25" cy="594.25" r="3.6" fill="#ff7f0e"/>
<circle cx="77.00" cy="669.00" r="3.6" fill="#ff7f0e"/>
<circle cx="282.25" cy="600.00" r="3.6" fill="#ff7f0e"/>
<circle cx="174.50" cy="639.00" r="3.6" fill="#ff7f0e"/>
<circle cx="203.75" cy="675.00" r="3.6" fill="#ff7f0e"/>
<text transform="translate(57.70,644.85) scale(1,1.1)" font-size="9.54" fill="#d62728" stroke="#d62728" text-anchor="start" >Unclassified Bacteria</text>
<text transform="translate(138.95,621.25) scale(1,1.1)" font-size="9.54" fill="#d62728" stroke="#d62728" text-anchor="start" >Sphingobacteria</text>
<text transform="translate(238.20,656.85) scale(1,1.1)" font-size="9.54" fill="#d62728" stroke="#d62728" text-anchor="start" >Actinobacteria</text>
<text transform="translate(173.20,694.35) scale(1,1.1)" font-size="9.54" fill="#d62728" stroke="#d62728" text-anchor="start" >Bacilli</text>
<text transform="translate(113.95,738.35) scale(1,1.1)" font-size="9.54" fill="#d62728" stroke="#d62728" text-anchor="start" >Alphaproteobacteria</text>
<rect x="36.8" y="552.3" width="269.2" height="215.0" fill="none" stroke="#2b2b2b" stroke-width="1.2"/>
<line x1="55.70" y1="767.30" x2="55.70" y2="763.30" stroke="#2b2b2b" stroke-width="1" />
<text transform="translate(55.70,779.75) scale(1,1.1)" font-size="9.5" fill="#161616" stroke="#161616" text-anchor="middle" >-0.06</text>
<line x1="94.20" y1="767.30" x2="94.20" y2="763.30" stroke="#2b2b2b" stroke-width="1" />
<text transform="translate(94.20,779.75) scale(1,1.1)" font-size="9.5" fill="#161616" stroke="#161616" text-anchor="middle" >-0.04</text>
<line x1="132.70" y1="767.30" x2="132.70" y2="763.30" stroke="#2b2b2b" stroke-width="1" />
<text transform="translate(132.70,779.75) scale(1,1.1)" font-size="9.5" fill="#161616" stroke="#161616" text-anchor="middle" >-0.02</text>
<line x1="171.20" y1="767.30" x2="171.20" y2="763.30" stroke="#2b2b2b" stroke-width="1" />
<text transform="translate(171.20,779.75) scale(1,1.1)" font-size="9.5" fill="#161616" stroke="#161616" text-anchor="middle" >0.00</text>
<line x1="209.70" y1="767.30" x2="209.70" y2="763.30" stroke="#2b2b2b" stroke-width="1" />
<text transform="translate(209.70,779.75) scale(1,1.1)" font-size="9.5" fill="#161616" stroke="#161616" text-anchor="middle" >0.02</text>
<line x1="248.20" y1="767.30" x2="248.20" y2="763.30" stroke="#2b2b2b" stroke-width="1" />
<text transform="translate(248.20,779.75) scale(1,1.1)" font-size="9.5" fill="#161616" stroke="#161616" text-anchor="middle" >0.04</text>
<line x1="286.70" y1="767.30" x2="286.70" y2="763.30" stroke="#2b2b2b" stroke-width="1" />
<text transform="translate(286.70,779.75) scale(1,1.1)" font-size="9.5" fill="#161616" stroke="#161616" text-anchor="middle" >0.06</text>
<line x1="74.95" y1="767.30" x2="74.95" y2="765.10" stroke="#2b2b2b" stroke-width="1" />
<line x1="113.45" y1="767.30" x2="113.45" y2="765.10" stroke="#2b2b2b" stroke-width="1" />
<line x1="151.95" y1="767.30" x2="151.95" y2="765.10" stroke="#2b2b2b" stroke-width="1" />
<line x1="190.45" y1="767.30" x2="190.45" y2="765.10" stroke="#2b2b2b" stroke-width="1" />
<line x1="228.95" y1="767.30" x2="228.95" y2="765.10" stroke="#2b2b2b" stroke-width="1" />
<line x1="267.45" y1="767.30" x2="267.45" y2="765.10" stroke="#2b2b2b" stroke-width="1" />
<line x1="36.80" y1="767.39" x2="40.80" y2="767.39" stroke="#2b2b2b" stroke-width="1" />
<text transform="translate(31.50,770.44) scale(1,1.1)" font-size="9.5" fill="#161616" stroke="#161616" text-anchor="end" >-0.06</text>
<line x1="36.80" y1="731.56" x2="40.80" y2="731.56" stroke="#2b2b2b" stroke-width="1" />
<text transform="translate(31.50,734.61) scale(1,1.1)" font-size="9.5" fill="#161616" stroke="#161616" text-anchor="end" >-0.04</text>
<line x1="36.80" y1="695.73" x2="40.80" y2="695.73" stroke="#2b2b2b" stroke-width="1" />
<text transform="translate(31.50,698.78) scale(1,1.1)" font-size="9.5" fill="#161616" stroke="#161616" text-anchor="end" >-0.02</text>
<line x1="36.80" y1="659.90" x2="40.80" y2="659.90" stroke="#2b2b2b" stroke-width="1" />
<text transform="translate(31.50,662.95) scale(1,1.1)" font-size="9.5" fill="#161616" stroke="#161616" text-anchor="end" >0.00</text>
<line x1="36.80" y1="624.07" x2="40.80" y2="624.07" stroke="#2b2b2b" stroke-width="1" />
<text transform="translate(31.50,627.12) scale(1,1.1)" font-size="9.5" fill="#161616" stroke="#161616" text-anchor="end" >0.02</text>
<line x1="36.80" y1="588.24" x2="40.80" y2="588.24" stroke="#2b2b2b" stroke-width="1" />
<text transform="translate(31.50,591.29) scale(1,1.1)" font-size="9.5" fill="#161616" stroke="#161616" text-anchor="end" >0.04</text>
<line x1="36.80" y1="552.41" x2="40.80" y2="552.41" stroke="#2b2b2b" stroke-width="1" />
<text transform="translate(31.50,555.46) scale(1,1.1)" font-size="9.5" fill="#161616" stroke="#161616" text-anchor="end" >0.06</text>
<line x1="36.80" y1="749.49" x2="39.00" y2="749.49" stroke="#2b2b2b" stroke-width="1" />
<line x1="36.80" y1="713.66" x2="39.00" y2="713.66" stroke="#2b2b2b" stroke-width="1" />
<line x1="36.80" y1="677.83" x2="39.00" y2="677.83" stroke="#2b2b2b" stroke-width="1" />
<line x1="36.80" y1="642.00" x2="39.00" y2="642.00" stroke="#2b2b2b" stroke-width="1" />
<line x1="36.80" y1="606.17" x2="39.00" y2="606.17" stroke="#2b2b2b" stroke-width="1" />
<line x1="36.80" y1="570.34" x2="39.00" y2="570.34" stroke="#2b2b2b" stroke-width="1" />
<text transform="translate(171.30,798.22) scale(1,1.1)" font-size="11.3" fill="#161616" stroke="#161616" text-anchor="middle" >Dim1</text>
<text transform="translate(9.10,647.80) rotate(-90) scale(1,1.1)" font-size="11.3" fill="#161616" stroke="#161616" text-anchor="middle">Dim2</text>
<text transform="translate(174.70,812.00)" font-size="13.4" fill="#161616" stroke="#161616" text-anchor="middle">(e). Class (<tspan font-style="italic">stress</tspan>=8.16%)</text>
</g>
<g id="panel-f">
<line x1="352.90" y1="670.00" x2="622.00" y2="670.00" stroke="#989898" stroke-width="1" stroke-dasharray="1.6 1.4"/>
<line x1="478.50" y1="552.30" x2="478.50" y2="767.30" stroke="#555" stroke-width="0.9" stroke-dasharray="1.3 1.7"/>
<text transform="translate(361.95,594.36) scale(1,1.1)" font-size="9.64" fill="#161616" stroke="#161616" text-anchor="start" >TiO2.15d.050c</text>
<text transform="translate(385.20,635.36) scale(1,1.1)" font-size="9.64" fill="#161616" stroke="#161616" text-anchor="start" >Ctrl.00d</text>
<text transform="translate(422.45,642.36) scale(1,1.1)" font-size="9.64" fill="#161616" stroke="#161616" text-anchor="start" >Ctrl.15d</text>
<text transform="translate(402.70,663.61) scale(1,1.1)" font-size="9.64" fill="#161616" stroke="#161616" text-anchor="start" >TiO2.60d.050c</text>
<text transform="translate(501.20,586.11) scale(1,1.1)" font-size="9.64" fill="#161616" stroke="#161616" text-anchor="start" >TiO2.15d.100c</text>
<text transform="translate(539.45,612.86) scale(1,1.1)" font-size="9.64" fill="#161616" stroke="#161616" text-anchor="start" >Ctrl.60d</text>
<text transform="translate(505.70,656.61) scale(1,1.1)" font-size="9.64" fill="#161616" stroke="#161616" text-anchor="start" >ZnO.15d.005c</text>
<text transform="translate(485.45,680.36) scale(1,1.1)" font-size="9.64" fill="#161616" stroke="#161616" text-anchor="start" >ZnO.60d.005c</text>
<text transform="translate(554.95,679.86) scale(1,1.1)" font-size="9.64" fill="#161616" stroke="#161616" text-anchor="start" >TiO2.60d.100c</text>
<text transform="translate(507.45,698.36) scale(1,1.1)" font-size="9.64" fill="#161616" stroke="#161616" text-anchor="start" >TiO2.60d.200c</text>
<text transform="translate(549.45,742.61) scale(1,1.1)" font-size="9.64" fill="#161616" stroke="#161616" text-anchor="start" >ZnO.60d.050c</text>
<text transform="translate(456.45,744.61) scale(1,1.1)" font-size="9.64" fill="#161616" stroke="#161616" text-anchor="start" >ZnO.60d.010c</text>
<text transform="translate(360.70,697.11) scale(1,1.1)" font-size="9.64" fill="#161616" stroke="#161616" text-anchor="start" >ZnO.15d.010c</text>
<text transform="translate(370.70,732.11) scale(1,1.1)" font-size="9.64" fill="#161616" stroke="#161616" text-anchor="start" >TiO2.15d.200c</text>
<text transform="translate(379.45,750.36) scale(1,1.1)" font-size="9.64" fill="#161616" stroke="#161616" text-anchor="start" >ZnO.15d.050c</text>
<line x1="478.00" y1="669.25" x2="415.50" y2="602.75" stroke="#d62728" stroke-width="1.35" stroke-linecap="round"/>
<line x1="478.00" y1="669.25" x2="476.75" y2="640.00" stroke="#d62728" stroke-width="1.35" stroke-linecap="round"/>
<line x1="478.00" y1="669.25" x2="596.50" y2="638.25" stroke="#d62728" stroke-width="1.35" stroke-linecap="round"/>
<line x1="478.00" y1="669.25" x2="452.50" y2="710.00" stroke="#d62728" stroke-width="1.35" stroke-linecap="round"/>
<line x1="478.00" y1="669.25" x2="471.25" y2="711.75" stroke="#d62728" stroke-width="1.35" stroke-linecap="round"/>
<line x1="478.00" y1="669.25" x2="461.25" y2="695.00" stroke="#d62728" stroke-width="1.35" stroke-linecap="round"/>
<circle cx="422.00" cy="617.75" r="3.6" fill="#2ca02c"/>
<circle cx="457.75" cy="625.25" r="3.6" fill="#2ca02c"/>
<circle cx="542.50" cy="618.00" r="3.6" fill="#2ca02c"/>
<circle cx="375.50" cy="609.75" r="3.6" fill="#1f77b4"/>
<circle cx="446.00" cy="673.25" r="3.6" fill="#1f77b4"/>
<circle cx="536.25" cy="570.00" r="3.6" fill="#1f77b4"/>
<circle cx="591.75" cy="687.50" r="3.6" fill="#1f77b4"/>
<circle cx="548.00" cy="703.50" r="3.6" fill="#1f77b4"/>
<circle cx="429.00" cy="716.25" r="3.6" fill="#1f77b4"/>
<circle cx="494.75" cy="646.50" r="3.6" fill="#ff7f0e"/>
<circle cx="478.25" cy="679.50" r="3.6" fill="#ff7f0e"/>
<circle cx="595.75" cy="726.25" r="3.6" fill="#ff7f0e"/>
<circle cx="389.75" cy="681.25" r="3.6" fill="#ff7f0e"/>
<circle cx="450.50" cy="729.50" r="3.6" fill="#ff7f0e"/>
<circle cx="409.00" cy="755.50" r="3.6" fill="#ff7f0e"/>
<text transform="translate(422.70,605.60) scale(1,1.1)" font-size="9.54" fill="#d62728" stroke="#d62728" text-anchor="start" >Proteobacteria</text>
<text transform="translate(472.70,635.10) scale(1,1.1)" font-size="9.54" fill="#d62728" stroke="#d62728" text-anchor="start" >Firmicutes</text>
<text transform="translate(555.70,634.35) scale(1,1.1)" font-size="9.54" fill="#d62728" stroke="#d62728" text-anchor="start" >Actinobacteria</text>
<text transform="translate(460.95,723.05) scale(1,1.1)" font-size="9.54" fill="#d62728" stroke="#d62728" text-anchor="start" >Bacteroidetes</text>
<text transform="translate(393.95,710.35) scale(1,1.1)" font-size="9.54" fill="#d62728" stroke="#d62728" text-anchor="start" >Acidobacteria</text>
<rect x="352.9" y="552.3" width="269.1" height="215.0" fill="none" stroke="#2b2b2b" stroke-width="1.2"/>
<line x1="370.50" y1="767.30" x2="370.50" y2="763.30" stroke="#2b2b2b" stroke-width="1" />
<text transform="translate(370.50,779.75) scale(1,1.1)" font-size="9.5" fill="#161616" stroke="#161616" text-anchor="middle" >-0.06</text>
<line x1="406.50" y1="767.30" x2="406.50" y2="763.30" stroke="#2b2b2b" stroke-width="1" />
<text transform="translate(406.50,779.75) scale(1,1.1)" font-size="9.5" fill="#161616" stroke="#161616" text-anchor="middle" >-0.04</text>
<line x1="442.50" y1="767.30" x2="442.50" y2="763.30" stroke="#2b2b2b" stroke-width="1" />
<text transform="translate(442.50,779.75) scale(1,1.1)" font-size="9.5" fill="#161616" stroke="#161616" text-anchor="middle" >-0.02</text>
<line x1="478.50" y1="767.30" x2="478.50" y2="763.30" stroke="#2b2b2b" stroke-width="1" />
<text transform="translate(478.50,779.75) scale(1,1.1)" font-size="9.5" fill="#161616" stroke="#161616" text-anchor="middle" >0.00</text>
<line x1="514.50" y1="767.30" x2="514.50" y2="763.30" stroke="#2b2b2b" stroke-width="1" />
<text transform="translate(514.50,779.75) scale(1,1.1)" font-size="9.5" fill="#161616" stroke="#161616" text-anchor="middle" >0.02</text>
<line x1="550.50" y1="767.30" x2="550.50" y2="763.30" stroke="#2b2b2b" stroke-width="1" />
<text transform="translate(550.50,779.75) scale(1,1.1)" font-size="9.5" fill="#161616" stroke="#161616" text-anchor="middle" >0.04</text>
<line x1="586.50" y1="767.30" x2="586.50" y2="763.30" stroke="#2b2b2b" stroke-width="1" />
<text transform="translate(586.50,779.75) scale(1,1.1)" font-size="9.5" fill="#161616" stroke="#161616" text-anchor="middle" >0.06</text>
<line x1="622.50" y1="767.30" x2="622.50" y2="763.30" stroke="#2b2b2b" stroke-width="1" />
<text transform="translate(622.50,779.75) scale(1,1.1)" font-size="9.5" fill="#161616" stroke="#161616" text-anchor="middle" >0.08</text>
<line x1="352.50" y1="767.30" x2="352.50" y2="765.10" stroke="#2b2b2b" stroke-width="1" />
<line x1="388.50" y1="767.30" x2="388.50" y2="765.10" stroke="#2b2b2b" stroke-width="1" />
<line x1="424.50" y1="767.30" x2="424.50" y2="765.10" stroke="#2b2b2b" stroke-width="1" />
<line x1="460.50" y1="767.30" x2="460.50" y2="765.10" stroke="#2b2b2b" stroke-width="1" />
<line x1="496.50" y1="767.30" x2="496.50" y2="765.10" stroke="#2b2b2b" stroke-width="1" />
<line x1="532.50" y1="767.30" x2="532.50" y2="765.10" stroke="#2b2b2b" stroke-width="1" />
<line x1="568.50" y1="767.30" x2="568.50" y2="765.10" stroke="#2b2b2b" stroke-width="1" />
<line x1="604.50" y1="767.30" x2="604.50" y2="765.10" stroke="#2b2b2b" stroke-width="1" />
<line x1="352.90" y1="748.30" x2="356.90" y2="748.30" stroke="#2b2b2b" stroke-width="1" />
<text transform="translate(347.60,751.35) scale(1,1.1)" font-size="9.5" fill="#161616" stroke="#161616" text-anchor="end" >-0.04</text>
<line x1="352.90" y1="709.15" x2="356.90" y2="709.15" stroke="#2b2b2b" stroke-width="1" />
<text transform="translate(347.60,712.20) scale(1,1.1)" font-size="9.5" fill="#161616" stroke="#161616" text-anchor="end" >-0.02</text>
<line x1="352.90" y1="670.00" x2="356.90" y2="670.00" stroke="#2b2b2b" stroke-width="1" />
<text transform="translate(347.60,673.05) scale(1,1.1)" font-size="9.5" fill="#161616" stroke="#161616" text-anchor="end" >0.00</text>
<line x1="352.90" y1="630.85" x2="356.90" y2="630.85" stroke="#2b2b2b" stroke-width="1" />
<text transform="translate(347.60,633.90) scale(1,1.1)" font-size="9.5" fill="#161616" stroke="#161616" text-anchor="end" >0.02</text>
<line x1="352.90" y1="591.70" x2="356.90" y2="591.70" stroke="#2b2b2b" stroke-width="1" />
<text transform="translate(347.60,594.75) scale(1,1.1)" font-size="9.5" fill="#161616" stroke="#161616" text-anchor="end" >0.04</text>
<line x1="352.90" y1="552.55" x2="356.90" y2="552.55" stroke="#2b2b2b" stroke-width="1" />
<text transform="translate(347.60,555.60) scale(1,1.1)" font-size="9.5" fill="#161616" stroke="#161616" text-anchor="end" >0.06</text>
<line x1="352.90" y1="767.85" x2="355.10" y2="767.85" stroke="#2b2b2b" stroke-width="1" />
<line x1="352.90" y1="728.70" x2="355.10" y2="728.70" stroke="#2b2b2b" stroke-width="1" />
<line x1="352.90" y1="689.55" x2="355.10" y2="689.55" stroke="#2b2b2b" stroke-width="1" />
<line x1="352.90" y1="650.40" x2="355.10" y2="650.40" stroke="#2b2b2b" stroke-width="1" />
<line x1="352.90" y1="611.25" x2="355.10" y2="611.25" stroke="#2b2b2b" stroke-width="1" />
<line x1="352.90" y1="572.10" x2="355.10" y2="572.10" stroke="#2b2b2b" stroke-width="1" />
<text transform="translate(487.10,798.22) scale(1,1.1)" font-size="11.3" fill="#161616" stroke="#161616" text-anchor="middle" >Dim1</text>
<text transform="translate(321.10,659.70) rotate(-90) scale(1,1.1)" font-size="11.3" fill="#161616" stroke="#161616" text-anchor="middle">Dim2</text>
<text transform="translate(491.10,812.00)" font-size="13.4" fill="#161616" stroke="#161616" text-anchor="middle">(f). Phylum (<tspan font-style="italic">stress</tspan>=7.07%)</text>
</g>
</svg>
</body></html>
